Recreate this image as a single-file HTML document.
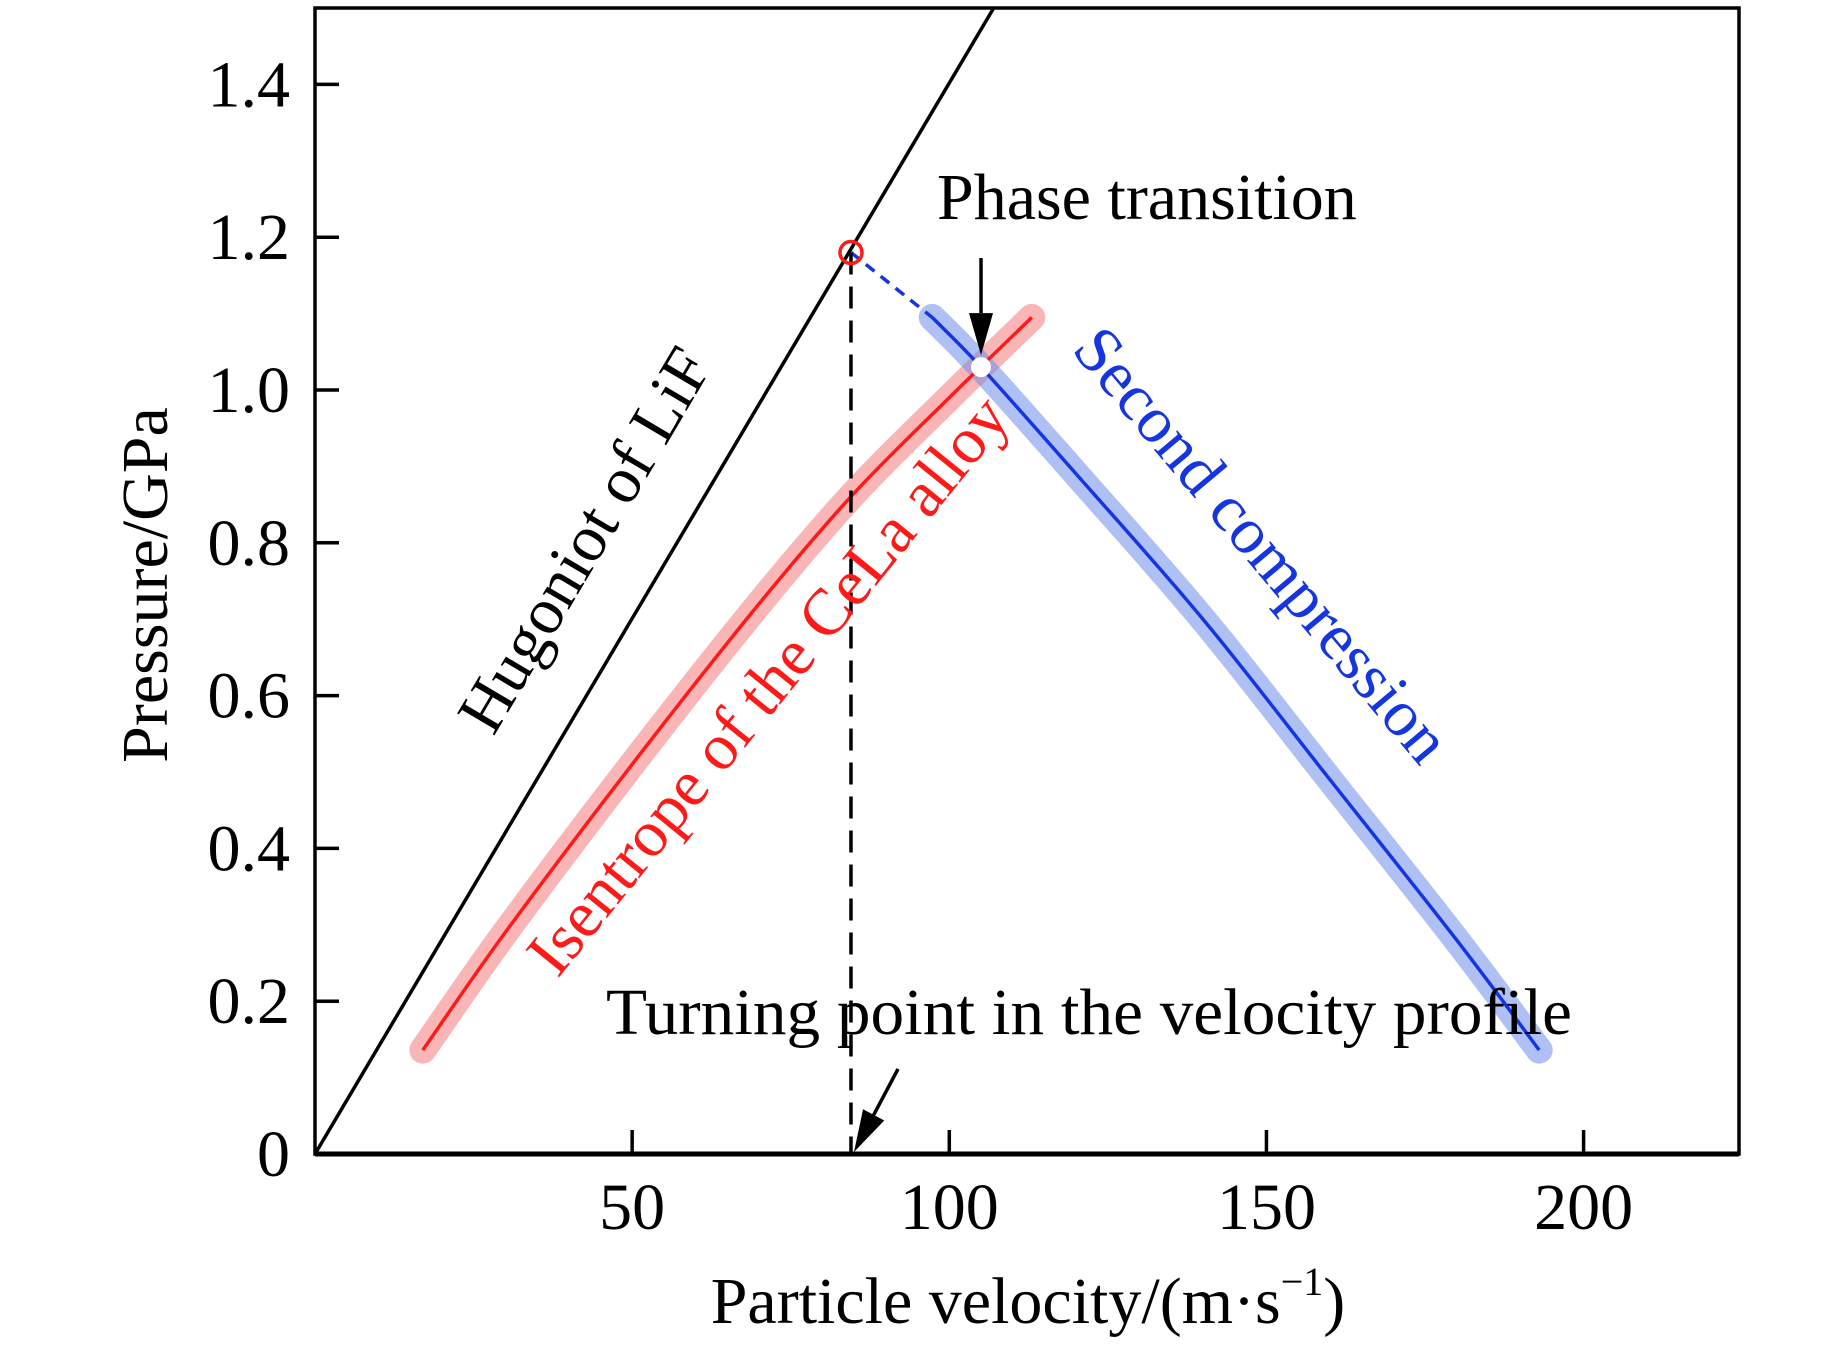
<!DOCTYPE html>
<html><head><meta charset="utf-8"><style>
html,body{margin:0;padding:0;background:#fff;}
svg text{font-family:"Liberation Serif",serif;}
</style></head><body>
<svg id="chart" width="1843" height="1346" viewBox="0 0 1843 1346" xmlns="http://www.w3.org/2000/svg">
<rect width="1843" height="1346" fill="#fff"/>
<g id="plot"></g>
</svg>
<script>
const xTicks = [50, 100, 150, 200];
const yTicks = [0, 0.2, 0.4, 0.6, 0.8, 1.0, 1.2, 1.4];
const yTickLabels = ["0", "0.2", "0.4", "0.6", "0.8", "1.0", "1.2", "1.4"];
const hugoniotU = [0, 107];
const hugoniotP = [0, 1.5];
const isentropeU = [17, 30, 50, 70, 85, 100, 113];
const isentropeP = [0.136, 0.29, 0.51, 0.72, 0.865, 0.99, 1.095];
const secondU = [97.3, 105, 120, 140, 160, 180, 193];
const secondP = [1.095, 1.03, 0.89, 0.70, 0.49, 0.28, 0.136];
const turningU = [84.5];
const turningP = [1.18];
const phaseU = [105];
const phaseP = [1.03];

const L=315,R=1739,T=8,B=1154;
const xMin=0,xMax=224.5,yMin=0,yMax=1.5;
function sx(u){return L+(u-xMin)/(xMax-xMin)*(R-L);}
function sy(p){return B-(p-yMin)/(yMax-yMin)*(B-T);}
const NS="http://www.w3.org/2000/svg";
const g=document.getElementById('plot');
function mk(tag,attrs,parent){const e=document.createElementNS(NS,tag);for(const k in attrs)e.setAttribute(k,attrs[k]);(parent||g).appendChild(e);return e;}
function pathFrom(us,ps){return us.map((u,i)=>(i?'L':'M')+sx(u).toFixed(1)+' '+sy(ps[i]).toFixed(1)).join(' ');}
function smoothFrom(us,ps){
  const pts=us.map((u,i)=>[sx(u),sy(ps[i])]);
  let d='M'+pts[0][0].toFixed(1)+' '+pts[0][1].toFixed(1);
  for(let i=0;i<pts.length-1;i++){
    const p0=pts[i-1]||pts[i],p1=pts[i],p2=pts[i+1],p3=pts[i+2]||pts[i+1];
    const c1=[p1[0]+(p2[0]-p0[0])/6,p1[1]+(p2[1]-p0[1])/6];
    const c2=[p2[0]-(p3[0]-p1[0])/6,p2[1]-(p3[1]-p1[1])/6];
    d+=` C${c1[0].toFixed(1)} ${c1[1].toFixed(1)} ${c2[0].toFixed(1)} ${c2[1].toFixed(1)} ${p2[0].toFixed(1)} ${p2[1].toFixed(1)}`;
  }
  return d;
}

let e;
e=mk('path',{d:smoothFrom(isentropeU,isentropeP),fill:'none',stroke:'rgba(245,110,110,0.5)','stroke-width':27,'stroke-linecap':'round','stroke-linejoin':'round'});


e=mk('path',{d:smoothFrom(secondU,secondP),fill:'none',stroke:'rgba(110,140,235,0.55)','stroke-width':27,'stroke-linecap':'round','stroke-linejoin':'round'});


e=mk('path',{d:pathFrom(hugoniotU,hugoniotP),fill:'none',stroke:'#000','stroke-width':3.5});


e=mk('path',{d:smoothFrom(isentropeU,isentropeP),fill:'none',stroke:'#ff1a1a','stroke-width':3.5});


e=mk('path',{d:smoothFrom(secondU,secondP),fill:'none',stroke:'#1535e0','stroke-width':3.5});


e=mk('path',{d:pathFrom([turningU[0],secondU[0]],[turningP[0],secondP[0]]),fill:'none',stroke:'#1535e0','stroke-width':3.5,'stroke-dasharray':'11 8'});


e=mk('line',{x1:sx(turningU[0]),y1:sy(turningP[0]),x2:sx(turningU[0]),y2:B,stroke:'#000','stroke-width':3.5,'stroke-dasharray':'22 12'});


e=mk('circle',{cx:sx(turningU[0]),cy:sy(turningP[0]),r:11,fill:'none',stroke:'#ff1a1a','stroke-width':3.5});


e=mk('circle',{cx:sx(phaseU[0]),cy:sy(phaseP[0]),r:10,fill:'#fff',stroke:'none'});



function arrow(x1,y1,x2,y2,name){
  const a=mk('g',{});
  
  
  const ang=Math.atan2(y2-y1,x2-x1),hl=42,hw=12;
  const bx=x2-hl*Math.cos(ang),by=y2-hl*Math.sin(ang);
  mk('line',{x1:x1,y1:y1,x2:bx,y2:by,stroke:'#000','stroke-width':3.5},a);
  const px=-Math.sin(ang)*hw,py=Math.cos(ang)*hw;
  mk('polygon',{points:`${x2},${y2} ${bx+px},${by+py} ${bx-px},${by-py}`,fill:'#000'},a);
}
arrow(sx(phaseU[0]),258,sx(phaseU[0]),sy(phaseP[0])-12,'phase-transition-arrow');
arrow(898,1069,sx(turningU[0])+3,B-2,'turning-point-arrow');

e=mk('rect',{x:L,y:T,width:R-L,height:B-T,fill:'none',stroke:'#000','stroke-width':3.5});


e=mk('line',{x1:L,y1:B,x2:R,y2:B,stroke:'#000','stroke-width':5});



xTicks.forEach((t,i)=>{
  const tk=mk('line',{x1:sx(t),y1:B,x2:sx(t),y2:B-24,stroke:'#000','stroke-width':3.5});
  
  
  const lb=mk('text',{x:sx(t),y:1229,'text-anchor':'middle','font-size':66});
  lb.textContent=String(t);
  
  
});
yTicks.forEach((t,i)=>{
  if(t>0){
    const tk=mk('line',{x1:L,y1:sy(t),x2:L+24,y2:sy(t),stroke:'#000','stroke-width':3.5});
    
    
  }
  const lb=mk('text',{x:290,y:sy(t)+22,'text-anchor':'end','font-size':66});
  lb.textContent=yTickLabels[i];
  
  
});

function txt(s,attrs,name){const t=mk('text',attrs);t.textContent=s;return t;}
txt('Pressure/GPa',{x:0,y:0,'text-anchor':'middle','font-size':66,transform:'translate(167,585) rotate(-90)'},'y-axis-title');
const xt=mk('text',{x:1028,y:1323,'text-anchor':'middle','font-size':66});


xt.innerHTML='Particle velocity/(m·s<tspan font-size="40" dy="-28">−1</tspan><tspan dy="28">)</tspan>';
txt('Phase transition',{x:937,y:219,'font-size':66},'phase-transition-label');
txt('Turning point in the velocity profile',{x:606,y:1034,'font-size':66,textLength:966,lengthAdjust:'spacingAndGlyphs'},'turning-point-label');
txt('Hugoniot of LiF',{x:0,y:0,'text-anchor':'middle','dominant-baseline':'central','font-size':66,transform:'translate(585,540) rotate(-59.4)'},'hugoniot-label');
txt('Isentrope of the CeLa alloy',{x:0,y:0,'text-anchor':'middle','dominant-baseline':'central','font-size':66,fill:'#ff1a1a',transform:'translate(768,685) rotate(-51)'},'isentrope-label');
txt('Second compression',{x:0,y:0,'text-anchor':'middle','dominant-baseline':'central','font-size':66,fill:'#1535e0',transform:'translate(1262,545) rotate(50)'},'second-compression-label');
</script>
</body></html>
